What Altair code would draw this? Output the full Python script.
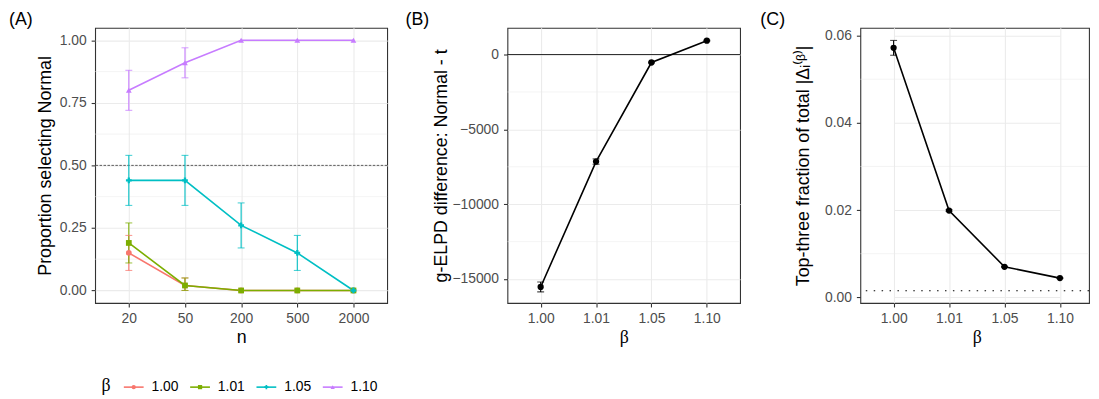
import altair as alt
import pandas as pd

# ---------------- data ----------------
n_levels = ["20", "50", "200", "500", "2000"]
beta_levels = ["1.00", "1.01", "1.05", "1.10"]
beta_colors = ["#F8766D", "#7CAE00", "#00BFC4", "#C77CFF"]
beta_shapes = ["circle", "square", "cross", "triangle-up"]

# Panel A: proportion selecting Normal, by n, per beta
prop_100 = [0.15, 0.02, 0.00, 0.00, 0.00]
lo_100 = [0.08, 0.00, 0.00, 0.00, 0.00]
hi_100 = [0.22, 0.05, 0.00, 0.00, 0.00]
prop_101 = [0.19, 0.02, 0.00, 0.00, 0.00]
lo_101 = [0.11, 0.00, 0.00, 0.00, 0.00]
hi_101 = [0.27, 0.05, 0.00, 0.00, 0.00]
prop_105 = [0.44, 0.44, 0.26, 0.15, 0.00]
lo_105 = [0.34, 0.34, 0.17, 0.08, 0.00]
hi_105 = [0.54, 0.54, 0.35, 0.22, 0.00]
prop_110 = [0.80, 0.91, 1.00, 1.00, 1.00]
lo_110 = [0.72, 0.85, 1.00, 1.00, 1.00]
hi_110 = [0.88, 0.97, 1.00, 1.00, 1.00]
refline_A = 0.5
ticks_A = [0.0, 0.25, 0.5, 0.75, 1.0]
minor_A = [0.125, 0.375, 0.625, 0.875]

# Panel B: g-ELPD difference Normal - t
elpd = [-15530, -7150, -530, 930]
elpd_lo = [-15860, -7330, -560, 900]
elpd_hi = [-15200, -6970, -500, 960]
ticks_B = [-15000, -10000, -5000, 0]
minor_B = [-12500, -7500, -2500]

# Panel C: top-three fraction
frac = [0.0572, 0.0199, 0.0070, 0.0044]
frac_lo = [0.0555, 0.0197, 0.0069, 0.0043]
frac_hi = [0.0589, 0.0201, 0.0071, 0.0045]
refline_C = 0.0015
ticks_C = [0.0, 0.02, 0.04, 0.06]
minor_C = [0.01, 0.03, 0.05]

# ---------------- style ----------------
H = 278
FONT = "Liberation Sans"
SERIF = "Liberation Serif"
GRID = "#EBEBEB"

rowsA = []
for b, p, lo, hi in [("1.00", prop_100, lo_100, hi_100), ("1.01", prop_101, lo_101, hi_101),
                     ("1.05", prop_105, lo_105, hi_105), ("1.10", prop_110, lo_110, hi_110)]:
    for i, n in enumerate(n_levels):
        rowsA.append({"n": n, "beta": b, "y": p[i], "lo": lo[i], "hi": hi[i]})
dfA = pd.DataFrame(rowsA)
dfA_err = dfA[dfA["hi"] > dfA["lo"]]

dfB = pd.DataFrame({"beta": beta_levels, "y": elpd, "lo": elpd_lo, "hi": elpd_hi})
dfC = pd.DataFrame({"beta": beta_levels, "y": frac, "lo": frac_lo, "hi": frac_hi})


def y_axis(values, fmt, title, tx, font=FONT):
    return alt.Axis(values=values, format=fmt, title=title, titleX=tx, titleY=H / 2,
                    titleAngle=270, titleBaseline="bottom", titleFont=font)


def x_axis(title, font=FONT):
    return alt.Axis(title=title, titleY=40, titleBaseline="alphabetic", titleFont=font,
                    labelAngle=0)


color_scale = alt.Scale(domain=beta_levels, range=beta_colors)
shape_scale = alt.Scale(domain=beta_levels, range=beta_shapes)
size_scale = alt.Scale(domain=beta_levels, range=[34, 34, 26, 40])


def panel_label(txt, dx):
    return alt.Chart(pd.DataFrame({"t": [txt]})).mark_text(
        font=FONT, fontSize=18, align="left", baseline="middle", color="black"
    ).encode(text="t:N", x=alt.value(dx), y=alt.value(-8))


# ---------------- panel A ----------------
yA_scale = alt.Scale(domain=[-0.05, 1.05], nice=False, zero=False)
xA = alt.X("n:O", sort=n_levels,
           scale=alt.Scale(type="point", domain=n_levels, padding=0.6),
           axis=x_axis("n"))
yAx = y_axis(ticks_A, ".2f", "Proportion selecting Normal", -41.5)


def yA(field):
    return alt.Y(f"{field}:Q", scale=yA_scale, axis=yAx)


minorA = alt.Chart(pd.DataFrame({"y": minor_A})).mark_rule(color=GRID, strokeWidth=0.55).encode(y=yA("y"))
hlineA = alt.Chart(pd.DataFrame({"y": [refline_A]})).mark_rule(
    color="#333333", strokeWidth=0.8, strokeDash=[2.5, 1.5]).encode(y=yA("y"))
errA = alt.Chart(dfA_err).mark_rule(strokeWidth=1.1).encode(
    x=xA, y=yA("lo"), y2="hi:Q", color=alt.Color("beta:N", scale=color_scale, legend=None))
capA_lo = alt.Chart(dfA_err).mark_tick(size=7, thickness=1.1, orient="horizontal").encode(
    x=xA, y=yA("lo"), color=alt.Color("beta:N", scale=color_scale, legend=None))
capA_hi = alt.Chart(dfA_err).mark_tick(size=7, thickness=1.1, orient="horizontal").encode(
    x=xA, y=yA("hi"), color=alt.Color("beta:N", scale=color_scale, legend=None))
lineA = alt.Chart(dfA).mark_line(strokeWidth=1.6).encode(
    x=xA, y=yA("y"), color=alt.Color("beta:N", scale=color_scale, legend=None))
pointA = alt.Chart(dfA).mark_point(filled=True, opacity=1).encode(
    x=xA, y=yA("y"),
    color=alt.Color("beta:N", scale=color_scale, legend=None),
    shape=alt.Shape("beta:N", scale=shape_scale, legend=None),
    size=alt.Size("beta:N", scale=size_scale, legend=None))

mainA = alt.layer(minorA, hlineA, errA, capA_lo, capA_hi, lineA, pointA)

# custom legend below panel A
leg_df = pd.DataFrame({"beta": beta_levels})
leg_x = alt.X("beta:N", sort=beta_levels,
              scale=alt.Scale(type="point", domain=beta_levels, range=[39, 240], padding=0),
              axis=None)
leg_line = alt.Chart(leg_df).mark_point(shape="stroke", filled=False, size=400, strokeWidth=1.6, opacity=1).encode(
    x=leg_x, y=alt.value(363), color=alt.Color("beta:N", scale=color_scale, legend=None))
leg_sym = alt.Chart(leg_df).mark_point(filled=True, size=18, opacity=1).encode(
    x=leg_x, y=alt.value(363),
    color=alt.Color("beta:N", scale=color_scale, legend=None),
    shape=alt.Shape("beta:N", scale=shape_scale, legend=None))
leg_txt = alt.Chart(leg_df).mark_text(font=FONT, fontSize=14, align="left", baseline="middle",
                                       dx=18, color="black").encode(
    x=leg_x, y=alt.value(363), text="beta:N")
leg_title = alt.Chart(pd.DataFrame({"t": ["β"]})).mark_text(
    font=SERIF, fontSize=18, align="center", baseline="middle", color="black").encode(
    text="t:N", x=alt.value(11), y=alt.value(362))
legendA = alt.layer(leg_line, leg_sym, leg_txt)

panelA = alt.layer(mainA, legendA, leg_title, panel_label("(A)", -87)).resolve_scale(
    x="independent").properties(width=295, height=H)

# ---------------- panel B ----------------
yB_scale = alt.Scale(domain=[-16600, 1790], nice=False, zero=False)
xB = alt.X("beta:O", sort=beta_levels,
           scale=alt.Scale(type="point", domain=beta_levels, padding=0.6),
           axis=x_axis("β", SERIF))
yBx = y_axis(ticks_B, "d", "g-ELPD difference: Normal - t", -58)


def yB(field):
    return alt.Y(f"{field}:Q", scale=yB_scale, axis=yBx)


minorB = alt.Chart(pd.DataFrame({"y": minor_B})).mark_rule(color=GRID, strokeWidth=0.55).encode(y=yB("y"))
zeroB = alt.Chart(pd.DataFrame({"y": [0]})).mark_rule(color="#222222", strokeWidth=1.0).encode(y=yB("y"))
errB = alt.Chart(dfB).mark_rule(strokeWidth=1.1, color="black").encode(x=xB, y=yB("lo"), y2="hi:Q")
capB_lo = alt.Chart(dfB).mark_tick(size=7, thickness=1.1, orient="horizontal", color="black").encode(x=xB, y=yB("lo"))
capB_hi = alt.Chart(dfB).mark_tick(size=7, thickness=1.1, orient="horizontal", color="black").encode(x=xB, y=yB("hi"))
lineB = alt.Chart(dfB).mark_line(strokeWidth=1.6, color="black").encode(x=xB, y=yB("y"))
pointB = alt.Chart(dfB).mark_point(filled=True, size=40, opacity=1, color="black").encode(x=xB, y=yB("y"))

panelB = alt.layer(minorB, zeroB, errB, capB_lo, capB_hi, lineB, pointB,
                   panel_label("(B)", -103)).properties(width=235, height=H)

# ---------------- panel C ----------------
yC_scale = alt.Scale(domain=[-0.0013, 0.0618], nice=False, zero=False)
xC = alt.X("beta:O", sort=beta_levels,
           scale=alt.Scale(type="point", domain=beta_levels, range=[33.6, 201.6], padding=0),
           axis=x_axis("β", SERIF))
yCx = y_axis(ticks_C, ".2f", "Top-three fraction of total |Δᵢ⁽ᵝ⁾|", -48)


def yC(field):
    return alt.Y(f"{field}:Q", scale=yC_scale, axis=yCx)


minorC = alt.Chart(pd.DataFrame({"y": minor_C})).mark_rule(color=GRID, strokeWidth=0.55).encode(y=yC("y"))
hlineC = alt.Chart(pd.DataFrame({"y": [refline_C]})).mark_rule(
    color="black", strokeWidth=1.2, strokeDash=[1.5, 6.5]).encode(y=yC("y"))
errC = alt.Chart(dfC).mark_rule(strokeWidth=1.1, color="black").encode(x=xC, y=yC("lo"), y2="hi:Q")
capC_lo = alt.Chart(dfC).mark_tick(size=7, thickness=1.1, orient="horizontal", color="black").encode(x=xC, y=yC("lo"))
capC_hi = alt.Chart(dfC).mark_tick(size=7, thickness=1.1, orient="horizontal", color="black").encode(x=xC, y=yC("hi"))
lineC = alt.Chart(dfC).mark_line(strokeWidth=1.6, color="black").encode(x=xC, y=yC("y"))
pointC = alt.Chart(dfC).mark_point(filled=True, size=40, opacity=1, color="black").encode(x=xC, y=yC("y"))

panelC = alt.layer(minorC, hlineC, errC, capC_lo, capC_hi, lineC, pointC,
                   panel_label("(C)", -101)).properties(width=231, height=H)

chart = alt.hconcat(panelA, panelB, panelC, spacing=121.5, bounds="flush").properties(
    padding=0, background="white"
).configure_view(
    stroke="#333333", strokeWidth=1.1
).configure_axis(
    domain=False,
    grid=True, gridColor=GRID, gridWidth=1.1,
    tickColor="#333333", tickSize=4, tickWidth=1.1,
    labelFont=FONT, labelFontSize=14, labelColor="#4D4D4D", labelPadding=5,
    titleFontSize=18, titleFontWeight="normal", titleColor="black",
)

chart.save("out.html", embed_options={"renderer": "svg", "actions": False})
